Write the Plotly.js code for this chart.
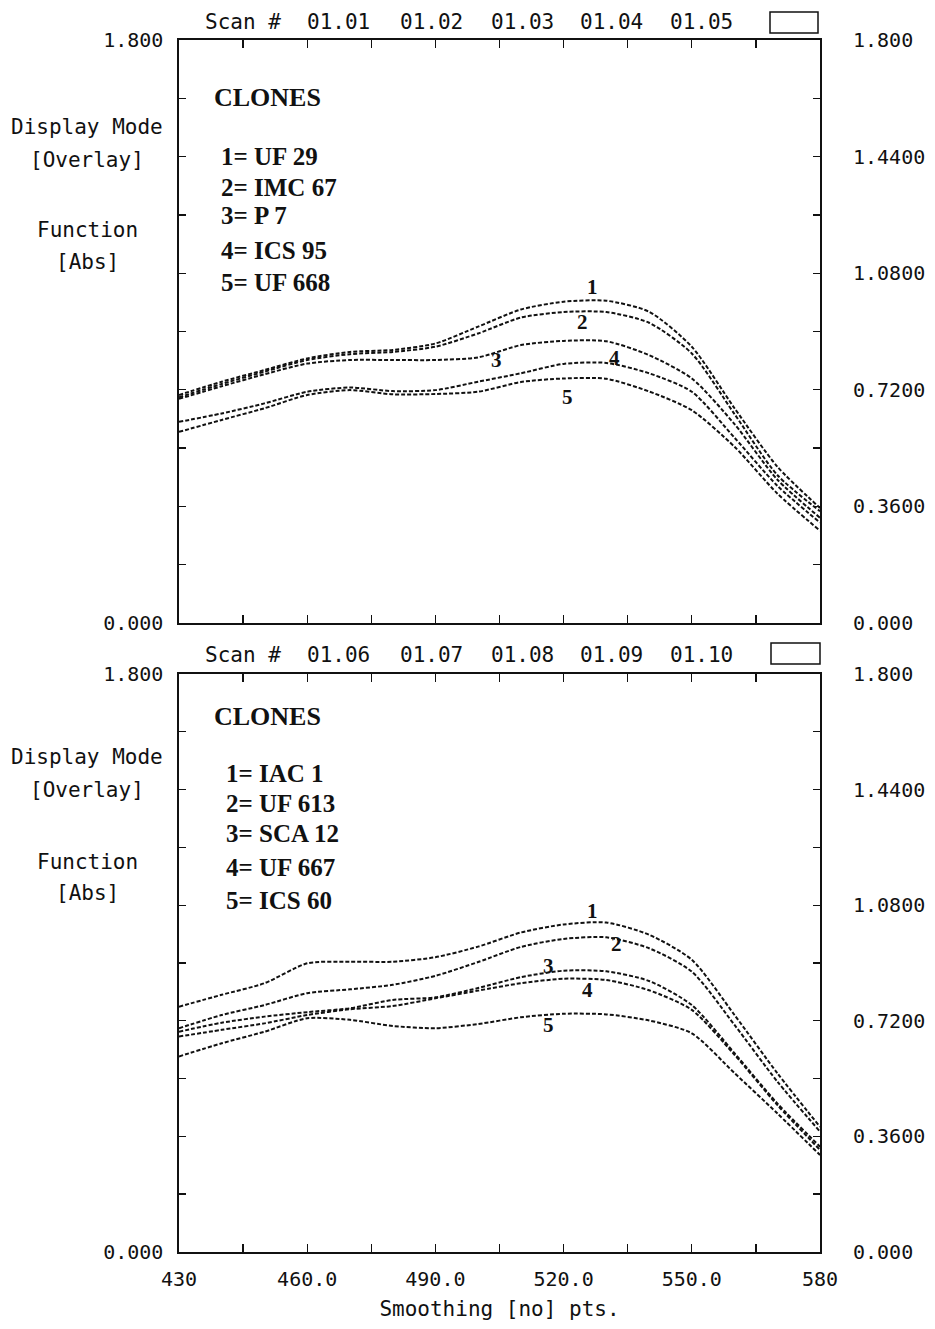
<!DOCTYPE html>
<html>
<head>
<meta charset="utf-8">
<script src="https://cdn.plot.ly/plotly-3.0.1.min.js"></script>
<style>html,body{margin:0;padding:0;background:#fff;}#chart{width:935px;height:1329px;}</style>
</head>
<body>
<div id="chart"></div>
<script>
// ---------- data ----------
const wavelength = [430,440,450,460,470,480,490,500,510,520,530,540,550,560,570,580];

// upper panel (scans 01.01 - 01.05)
const topClone1 = [0.704,0.745,0.781,0.817,0.837,0.843,0.863,0.915,0.968,0.992,0.995,0.961,0.853,0.663,0.483,0.355];
const topClone2 = [0.697,0.738,0.776,0.812,0.830,0.837,0.853,0.894,0.943,0.960,0.960,0.927,0.832,0.645,0.457,0.345];
const topClone3 = [0.692,0.731,0.768,0.801,0.812,0.812,0.812,0.820,0.858,0.871,0.870,0.827,0.755,0.614,0.443,0.325];
const topClone4 = [0.621,0.647,0.678,0.714,0.727,0.716,0.719,0.745,0.771,0.800,0.803,0.771,0.714,0.572,0.424,0.310];
const topClone5 = [0.590,0.627,0.663,0.704,0.719,0.706,0.707,0.714,0.744,0.755,0.754,0.715,0.657,0.544,0.400,0.285];

// lower panel (scans 01.06 - 01.10)
const botClone1 = [0.764,0.801,0.837,0.899,0.904,0.904,0.918,0.951,0.995,1.020,1.026,0.988,0.910,0.738,0.557,0.390];
const botClone2 = [0.697,0.738,0.769,0.806,0.818,0.832,0.860,0.903,0.950,0.975,0.980,0.946,0.873,0.707,0.531,0.375];
const botClone3 = [0.686,0.714,0.733,0.747,0.759,0.785,0.793,0.822,0.856,0.876,0.874,0.844,0.769,0.619,0.463,0.328];
const botClone4 = [0.671,0.692,0.712,0.738,0.756,0.766,0.790,0.814,0.837,0.851,0.847,0.815,0.754,0.614,0.458,0.318];
const botClone5 = [0.609,0.650,0.686,0.728,0.723,0.704,0.697,0.710,0.731,0.742,0.740,0.721,0.681,0.557,0.432,0.302];

const topCloneNames = ["1= UF 29","2= IMC 67","3= P 7","4= ICS 95","5= UF 668"];
const botCloneNames = ["1= IAC 1","2= UF 613","3= SCA 12","4= UF 667","5= ICS 60"];
const topScans = ["Scan #","01.01","01.02","01.03","01.04","01.05"];
const botScans = ["Scan #","01.06","01.07","01.08","01.09","01.10"];

const xTickVals = [430,445,460,475,490,505,520,535,550,565,580];
const xTickText = ["430","","460.0","","490.0","","520.0","","550.0","","580"];
const yMinorVals = [0,0.18,0.36,0.54,0.72,0.9,1.08,1.26,1.44,1.62,1.8];
const yLeftText  = ["0.000","","","","","","","","","","1.800"];
const yRightVals = [0,0.36,0.72,1.08,1.44,1.8];
const yRightText = ["0.000","0.3600","0.7200","1.0800","1.4400","1.800"];

// ---------- helpers (layout geometry) ----------
const W = 935, H = 1329, ML = 179, MR = 115, MT = 40, MB = 77;
const PW = W - ML - MR, PH = H - MT - MB;
const px = v => (v - ML) / PW;
const py = v => (H - MB - v) / PH;

const mono = "DejaVu Sans Mono, monospace";
const serif = "Liberation Serif, Times New Roman, serif";
const ink = "#111";

function curve(y, xa, ya) {
  return {x: wavelength, y: y, xaxis: xa, yaxis: ya, type: "scatter", mode: "lines",
    line: {color: ink, width: 2, dash: "4px,2px", shape: "spline", smoothing: 0.7},
    hoverinfo: "skip", showlegend: false};
}
// invisible companion trace so the right-hand axis of each panel is drawn
function ghost(y, xa, ya) {
  return {x: wavelength, y: y, xaxis: xa, yaxis: ya, type: "scatter", mode: "lines",
    line: {color: "rgba(0,0,0,0)", width: 0}, opacity: 0, hoverinfo: "skip", showlegend: false};
}

const traces = [
  curve(topClone1,"x","y"), curve(topClone2,"x","y"), curve(topClone3,"x","y"),
  curve(topClone4,"x","y"), curve(topClone5,"x","y"),
  curve(botClone1,"x2","y2"), curve(botClone2,"x2","y2"), curve(botClone3,"x2","y2"),
  curve(botClone4,"x2","y2"), curve(botClone5,"x2","y2"),
  ghost(topClone1,"x3","y3"), ghost(botClone1,"x4","y4")
];

const axLine = {showline: true, linecolor: ink, linewidth: 1.6, showgrid: false, zeroline: false,
  ticks: "inside", tickcolor: ink, tickwidth: 1.4, mirror: "allticks"};

function xAx(anchor, showLabels) {
  return Object.assign({}, axLine, {anchor: anchor, range: [430,580], tickmode: "array",
    tickvals: xTickVals, ticktext: xTickText, ticklen: 8, showticklabels: showLabels,
    tickfont: {family: mono, size: 20, color: ink}, ticklabelstandoff: 8});
}
function yAx(anchor, domain) {
  return Object.assign({}, axLine, {anchor: anchor, domain: domain, range: [0,1.8], tickmode: "array",
    tickvals: yMinorVals, ticktext: yLeftText, ticklen: 7,
    tickfont: {family: mono, size: 20, color: ink}, ticklabelstandoff: 10});
}
function xHidden(over, anchor) {
  return {overlaying: over, anchor: anchor, range: [430,580], visible: false,
    showgrid: false, zeroline: false, showline: false, ticks: ""};
}
function yRight(over, anchor, domain) {
  return {overlaying: over, anchor: anchor, side: "right", domain: domain, range: [0,1.8],
    tickmode: "array", tickvals: yRightVals, ticktext: yRightText, ticks: "",
    showline: false, showgrid: false, zeroline: false,
    tickfont: {family: mono, size: 20, color: ink}, ticklabelstandoff: 32};
}

const topDom = [py(623), 1];
const botDom = [0, py(674)];

const annotations = [];
function txt(x, y, s, font, xanchor, xref, yref) {
  annotations.push({x: x, y: y, xref: xref || "paper", yref: yref || "paper", text: s,
    showarrow: false, xanchor: xanchor || "center", yanchor: "middle", font: font});
}
const monoFont = {family: mono, size: 21, color: ink};
const headFont = {family: serif, size: 26, color: ink, weight: "bold"};
const legFont = {family: serif, size: 25, color: ink, weight: "bold"};
const numFont = {family: serif, size: 21, color: ink, weight: "bold"};

// scan headers
const scanX = [243,338,431,522,611,701];
topScans.forEach((s,i) => txt(px(scanX[i]), py(22), s, monoFont));
botScans.forEach((s,i) => txt(px(scanX[i]), py(655), s, monoFont));

// left side captions
[["Display Mode",127],["[Overlay]",160],["Function",230],["[Abs]",262]].forEach(([s,y]) => txt(px(87), py(y), s, monoFont));
[["Display Mode",757],["[Overlay]",790],["Function",862],["[Abs]",893]].forEach(([s,y]) => txt(px(87), py(y), s, monoFont));

// clone legends
txt(px(212), py(97), "CLONES", headFont, "left");
const topLegY = [157,187,216,250,282];
topCloneNames.forEach((s,i) => txt(px(219), py(topLegY[i]), s, legFont, "left"));
txt(px(212), py(716), "CLONES", headFont, "left");
const botLegY = [773,803,833,868,900];
botCloneNames.forEach((s,i) => txt(px(224), py(botLegY[i]), s, legFont, "left"));

// curve numbers
[[526.7,1.037,"1"],[524.5,0.929,"2"],[504.4,0.812,"3"],[532,0.818,"4"],[520.8,0.698,"5"]]
  .forEach(([x,y,s]) => txt(x, y, s, numFont, "center", "x", "y"));
[[526.7,1.062,"1"],[532.3,0.960,"2"],[516.4,0.891,"3"],[525.7,0.816,"4"],[516.4,0.707,"5"]]
  .forEach(([x,y,s]) => txt(x, y, s, numFont, "center", "x2", "y2"));

const shapes = [
  {type: "rect", xref: "paper", yref: "paper", x0: px(770), x1: px(818), y0: py(33), y1: py(12),
   line: {color: ink, width: 1.5}},
  {type: "rect", xref: "paper", yref: "paper", x0: px(771), x1: px(820), y0: py(664), y1: py(643),
   line: {color: ink, width: 1.5}}
];

const layout = {
  width: W, height: H,
  margin: {l: ML, r: MR, t: MT, b: MB, pad: 0},
  paper_bgcolor: "#fff", plot_bgcolor: "#fff",
  showlegend: false,
  xaxis: xAx("y", false),
  yaxis: yAx("x", topDom),
  xaxis3: xHidden("x", "y3"),
  yaxis3: yRight("y", "x3", topDom),
  xaxis2: Object.assign(xAx("y2", true), {title: {text: "Smoothing [no] pts.", font: {family: mono, size: 21, color: ink}, standoff: 12}}),
  yaxis2: yAx("x2", botDom),
  xaxis4: xHidden("x2", "y4"),
  yaxis4: yRight("y2", "x4", botDom),
  annotations: annotations,
  shapes: shapes
};

Plotly.newPlot("chart", traces, layout, {staticPlot: true, displayModeBar: false});
</script>
</body>
</html>
